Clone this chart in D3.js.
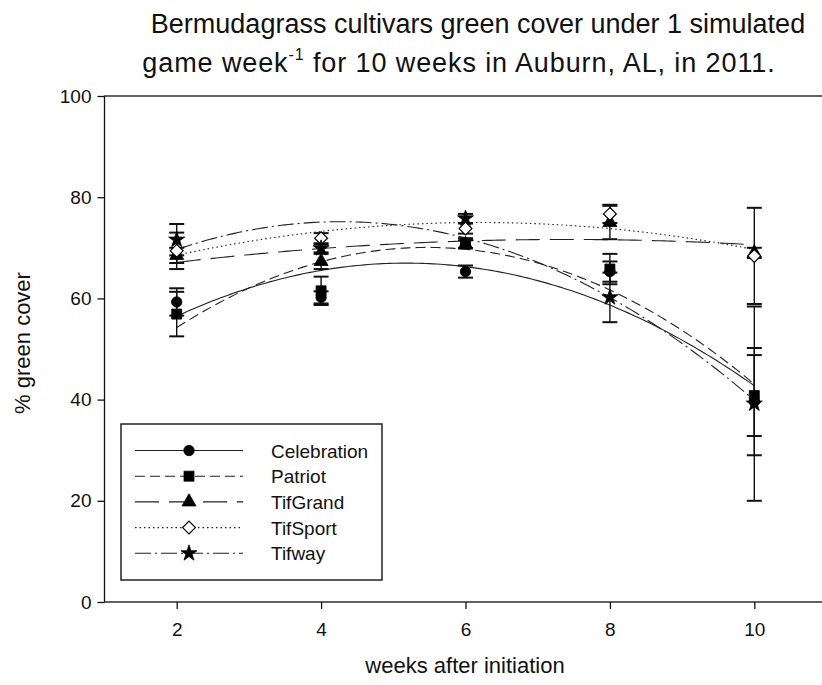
<!DOCTYPE html>
<html>
<head>
<meta charset="utf-8">
<script src="https://cdn.jsdelivr.net/npm/d3@7"></script>
<style>
  html, body { margin: 0; padding: 0; background: #fff; }
  svg { display: block; font-family: "Liberation Sans", Arial, sans-serif; }
</style>
</head>
<body>
<svg id="chart" width="822" height="685"></svg>
<script>
// ---- data ----
const weeks = [2, 4, 6, 8, 10];
const seriesNames = ["Celebration", "Patriot", "TifGrand", "TifSport", "Tifway"];
const celebration    = [59.3, 60.2, 65.3, 65.3, 39.6];
const celebrationErr = [2.7, 1.2, 1.2, 2.0, 10.6];
const patriot        = [56.9, 61.5, 70.9, 65.8, 40.8];
const patriotErr     = [4.4, 2.8, 1.0, 3.0, 8.0];
const tifGrand       = [68.5, 67.3, 70.7, 75.0, 69.0];
const tifGrandErr    = [1.5, 1.5, 0.8, 3.3, 1.0];
const tifSport       = [69.4, 71.9, 73.8, 76.7, 68.4];
const tifSportErr    = [3.6, 1.0, 1.0, 1.8, 9.5];
const tifway         = [71.6, 69.9, 75.8, 60.2, 39.2];
const tifwayErr      = [3.1, 0.8, 0.9, 4.9, 19.2];
const xTicks = [2, 4, 6, 8, 10];
const yTicks = [0, 20, 40, 60, 80, 100];
const titleLine1 = "Bermudagrass cultivars green cover under 1 simulated";
const titleLine2a = "game week";
const titleLine2sup = "-1";
const titleLine2b = " for 10 weeks in Auburn, AL, in 2011.";
const xLabel = "weeks after initiation";
const yLabel = "% green cover";

// ---- styles ----
const styles = {
  Celebration: { dash: null,          symbol: d3.symbolCircle,   size: 85,  fill: "#000" },
  Patriot:     { dash: "10,5",        symbol: d3.symbolSquare,   size: 100, fill: "#000" },
  TifGrand:    { dash: "24,10",       symbol: d3.symbolTriangle, size: 85,  fill: "#000" },
  TifSport:    { dash: "1.5,3",       symbol: d3.symbolDiamond2, size: 105, fill: "#fff" },
  Tifway:      { dash: "16,4,2,4",    symbol: d3.symbolStar,     size: 80,  fill: "#000" }
};
const values = [celebration, patriot, tifGrand, tifSport, tifway];
const errors = [celebrationErr, patriotErr, tifGrandErr, tifSportErr, tifwayErr];

const svg = d3.select("#chart");
const pLeft = 104.5, pRight = 826.5, pTop = 96, pBottom = 602;
const x = d3.scaleLinear().domain([1, 11]).range([pLeft, pRight]);
const y = d3.scaleLinear().domain([0, 100]).range([pBottom, pTop]);

// quadratic least-squares regression (as in the original's fitted curves)
function quadFit(xs, ys) {
  const S = [0,0,0,0,0], T = [0,0,0];
  xs.forEach((xv, i) => {
    let p = 1;
    for (let k = 0; k < 5; k++) { S[k] += p; if (k < 3) T[k] += p * ys[i]; p *= xv; }
  });
  const A = [[S[0],S[1],S[2],T[0]],[S[1],S[2],S[3],T[1]],[S[2],S[3],S[4],T[2]]];
  for (let c = 0; c < 3; c++) {
    for (let r = c + 1; r < 3; r++) {
      const f = A[r][c] / A[c][c];
      for (let k = c; k < 4; k++) A[r][k] -= f * A[c][k];
    }
  }
  const b = [0,0,0];
  for (let r = 2; r >= 0; r--) {
    let s = A[r][3];
    for (let k = r + 1; k < 3; k++) s -= A[r][k] * b[k];
    b[r] = s / A[r][r];
  }
  return xv => b[0] + b[1] * xv + b[2] * xv * xv;
}

// frame (left, bottom, top; right side lies beyond the picture)
svg.append("rect").attr("x", pLeft).attr("y", pTop)
  .attr("width", pRight - pLeft).attr("height", pBottom - pTop)
  .attr("fill", "none").attr("stroke", "#111").attr("stroke-width", 1.3);

// axes
const yAxis = d3.axisLeft(y).tickValues(yTicks).tickSize(7).tickPadding(6);
const gy = svg.append("g").attr("transform", `translate(${pLeft},0)`).call(yAxis);
gy.select(".domain").remove();
gy.selectAll("text").attr("font-size", 19).attr("fill", "#111")
  .attr("font-family", "Liberation Sans, Arial, sans-serif");
gy.selectAll("line").attr("stroke", "#111").attr("stroke-width", 1.3);

const xAxis = d3.axisBottom(x).tickValues(xTicks).tickSize(7).tickPadding(14);
const gx = svg.append("g").attr("transform", `translate(0,${pBottom})`).call(xAxis);
gx.select(".domain").remove();
gx.selectAll("text").attr("font-size", 19).attr("fill", "#111")
  .attr("font-family", "Liberation Sans, Arial, sans-serif");
gx.selectAll("line").attr("stroke", "#111").attr("stroke-width", 1.3);

// axis titles
svg.append("text").attr("x", 465).attr("y", 673).attr("text-anchor", "middle")
  .attr("font-size", 22).attr("fill", "#111").text(xLabel);
svg.append("text").attr("transform", "translate(30,343) rotate(-90)")
  .attr("text-anchor", "middle").attr("font-size", 22).attr("fill", "#111").text(yLabel);

// title
svg.append("text").attr("x", 478).attr("y", 33).attr("text-anchor", "middle")
  .attr("font-size", 27).attr("fill", "#111").text(titleLine1);
const t2 = svg.append("text").attr("x", 459).attr("y", 72).attr("text-anchor", "middle")
  .attr("font-size", 27).attr("letter-spacing", 0.9).attr("fill", "#111");
t2.append("tspan").text(titleLine2a);
t2.append("tspan").attr("font-size", 16).attr("dy", -12).text(titleLine2sup);
t2.append("tspan").attr("dy", 12).text(titleLine2b);

// fitted curves
const xs = d3.range(2, 10.001, 0.05);
const line = d3.line().x(d => x(d[0])).y(d => y(d[1]));
seriesNames.forEach((name, i) => {
  const f = quadFit(weeks, values[i]);
  svg.append("path").datum(xs.map(v => [v, f(v)]))
    .attr("d", line).attr("fill", "none").attr("stroke", "#222")
    .attr("stroke-width", 1.1)
    .attr("stroke-dasharray", styles[name].dash);
});

// error bars
seriesNames.forEach((name, i) => {
  const g = svg.append("g").attr("stroke", "#111").attr("stroke-width", 1.4);
  weeks.forEach((w, j) => {
    const v = values[i][j], e = errors[i][j];
    g.append("line").attr("x1", x(w)).attr("x2", x(w)).attr("y1", y(v - e)).attr("y2", y(v + e));
    [v - e, v + e].forEach(c => {
      g.append("line").attr("x1", x(w) - 7.5).attr("x2", x(w) + 7.5)
        .attr("y1", y(c)).attr("y2", y(c)).attr("stroke-width", 2);
    });
  });
});

// markers
seriesNames.forEach((name, i) => {
  const st = styles[name];
  const sym = d3.symbol().type(st.symbol).size(st.size);
  svg.append("g").selectAll("path").data(weeks.map((w, j) => [w, values[i][j]]))
    .join("path").attr("d", sym)
    .attr("transform", d => `translate(${x(d[0])},${y(d[1])})`)
    .attr("fill", st.fill).attr("stroke", "#000").attr("stroke-width", st.fill === "#fff" ? 1.2 : 0.8);
});

// legend
const lg = svg.append("g");
lg.append("rect").attr("x", 121).attr("y", 424).attr("width", 261).attr("height", 156)
  .attr("fill", "#fff").attr("stroke", "#222").attr("stroke-width", 1.5);
seriesNames.forEach((name, i) => {
  const st = styles[name];
  const ry = 450.5 + i * 25.7;
  lg.append("line").attr("x1", 135).attr("x2", 243).attr("y1", ry).attr("y2", ry)
    .attr("stroke", "#222").attr("stroke-width", 1.1).attr("stroke-dasharray", st.dash);
  lg.append("path").attr("d", d3.symbol().type(st.symbol).size(st.size)())
    .attr("transform", `translate(189,${ry})`)
    .attr("fill", st.fill).attr("stroke", "#000").attr("stroke-width", st.fill === "#fff" ? 1.2 : 0.8);
  lg.append("text").attr("x", 271).attr("y", ry + 7).attr("font-size", 19)
    .attr("fill", "#111").text(name);
});
</script>
</body>
</html>
